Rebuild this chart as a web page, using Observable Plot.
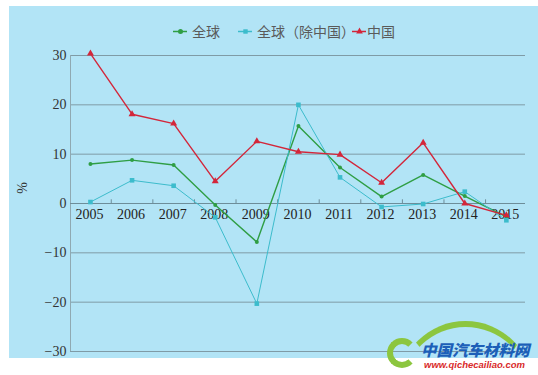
<!DOCTYPE html>
<html><head><meta charset="utf-8">
<script src="https://cdn.jsdelivr.net/npm/d3@7"></script>
<script src="https://cdn.jsdelivr.net/npm/@observablehq/plot@0.6"></script>
<style>
body{margin:0;background:#fff;width:538px;height:375px;overflow:hidden;position:relative;font-family:"Noto Sans CJK SC","Noto Sans",sans-serif}
#box{position:absolute;left:9px;top:6px;width:529px;height:352px;background:#b2e4f6}
#legend{position:absolute;left:0;top:0;width:529px;height:38px}
.item{position:absolute;top:15px;height:20px;display:flex;align-items:center;font-size:14px;color:#5a5a5a;white-space:nowrap}
#chart{position:absolute;left:0;top:38px}
#wm1{position:absolute;left:421px;top:340px;font-size:15.5px;line-height:18px;font-weight:900;font-style:italic;color:#1c5fb8;white-space:nowrap;font-family:"Noto Sans CJK SC",sans-serif}
#wm2{position:absolute;left:424px;top:359px;font-size:9.5px;line-height:11px;font-weight:bold;font-style:italic;color:#d92a2a;white-space:nowrap;font-family:"Liberation Sans",sans-serif}
#arc{position:absolute;left:398px;top:321px;width:135px;height:80px;border-radius:70px 70px 0 0;border-top:6px solid #8cc63f;border-left:5px solid transparent;border-right:4px solid transparent;box-sizing:border-box}
#ring{position:absolute;left:387px;top:338px;width:30px;height:30px;border-radius:50%;border:6px solid #8cc63f;border-right-color:transparent;box-sizing:border-box}
</style></head>
<body>
<div id="box">
  <div id="legend"></div>
  <div id="chart"></div>
</div>
<div id="arc"></div><div id="ring"></div>
<div id="wm1">中国汽车材料网</div>
<div id="wm2">www.qichecailiao.com</div>
<script>
const years = [2005, 2006, 2007, 2008, 2009, 2010, 2011, 2012, 2013, 2014, 2015];
const yearLabels = ["2005","2006","2007","2008","2009","2010","2011","2012","2013","2014","2015"];
const globalVals = [8.0, 8.8, 7.8, -0.3, -7.8, 15.7, 7.3, 1.4, 5.8, 1.5, -2.7];
const globalExChinaVals = [0.3, 4.7, 3.6, -2.8, -20.3, 20.0, 5.3, -0.7, -0.1, 2.4, -3.4];
const chinaVals = [30.4, 18.1, 16.2, 4.5, 12.6, 10.5, 9.9, 4.2, 12.3, 0.0, -2.4];
const seriesNames = ["全球", "全球（除中国）", "中国"];
const seriesColors = ["#2f9e44", "#3cbccc", "#d3263a"];
const seriesSymbols = ["circle", "square", "triangle"];
const yTicks = [-30, -20, -10, 0, 10, 20, 30];
const yTickLabels = ["−30", "−20", "−10", "0", "10", "20", "30"];
const yUnit = "%";

const allSeries = [globalVals, globalExChinaVals, chinaVals];
const data = [];
allSeries.forEach((vals, i) => years.forEach((yr, j) => data.push({series: seriesNames[i], year: yr, value: vals[j]})));

const xMin = 2004.52, xMax = 2015.46;
const mids = years.slice(0, -1).map(y => y + 0.5);
const gridLines = yTicks.filter(t => t !== 0);
const serif = "'Liberation Serif','DejaVu Serif',serif";

const marks = [
  Plot.ruleY(gridLines, {stroke: "#7f9ba6", strokeWidth: 1}),
  Plot.ruleX([xMin], {y1: -30, y2: 30, stroke: "#8fa9b2"}),
  Plot.ruleY([0], {stroke: "#6d8d99", strokeWidth: 1}),
  Plot.ruleX(mids, {y1: 0, y2: 0.75, stroke: "#6d8d99"}),
  Plot.text(yTicks, {x: xMin, y: d => d, text: (d, i) => yTickLabels[i], textAnchor: "end", dx: -4, fontFamily: serif, fontSize: 14, fill: "#333"}),
  Plot.text(years, {x: d => d, y: 0, text: (d, i) => yearLabels[i], dy: 11, dx: -1, fontFamily: serif, fontSize: 14, fill: "#222"})
];
seriesNames.forEach((name, i) => {
  const d = data.filter(r => r.series === name);
  marks.push(Plot.line(d, {x: "year", y: "value", stroke: seriesColors[i], strokeWidth: i === 1 ? 1 : 1.4}));
});
seriesNames.forEach((name, i) => {
  const d = data.filter(r => r.series === name);
  marks.push(Plot.dot(d, {x: "year", y: "value", fill: seriesColors[i], symbol: () => seriesSymbols[i], r: i === 0 ? 2 : 2.6, stroke: "none"}));
});

const chart = Plot.plot({
  width: 529, height: 314,
  marginLeft: 61, marginRight: 13, marginTop: 11, marginBottom: 7,
  style: {background: "transparent", overflow: "visible"},
  x: {domain: [xMin, xMax], axis: null},
  y: {domain: [-30, 30], axis: null},
  symbol: {type: "identity"},
  marks
});
document.getElementById("chart").appendChild(chart);

// y unit label
const unit = document.createElement("div");
unit.textContent = yUnit;
unit.style.cssText = "position:absolute;left:8px;top:174px;font-family:" + serif.replace(/'/g,'"') + ";font-size:14px;color:#333;transform:rotate(-90deg)";
document.getElementById("box").appendChild(unit);

// legend
const legendX = [164, 229, 343];
const legend = document.getElementById("legend");
seriesNames.forEach((name, i) => {
  const it = document.createElement("div");
  it.className = "item";
  it.style.left = legendX[i] + "px";
  const sw = Plot.plot({
    width: 14, height: 10, margin: 0,
    style: {background: "transparent"},
    x: {domain: [0, 1], axis: null}, y: {domain: [0, 1], axis: null},
    symbol: {type: "identity"},
    marks: [
      Plot.ruleY([0.5], {stroke: seriesColors[i], strokeWidth: 1.5}),
      Plot.dot([0.5], {x: d => d, y: 0.5, fill: seriesColors[i], symbol: () => seriesSymbols[i], r: 2.5, stroke: "none"})
    ]
  });
  sw.style.marginRight = i === 2 ? "1px" : "5px";
  it.appendChild(sw);
  const t = document.createElement("span");
  t.textContent = name;
  it.appendChild(t);
  legend.appendChild(it);
});
</script>
</body></html>
